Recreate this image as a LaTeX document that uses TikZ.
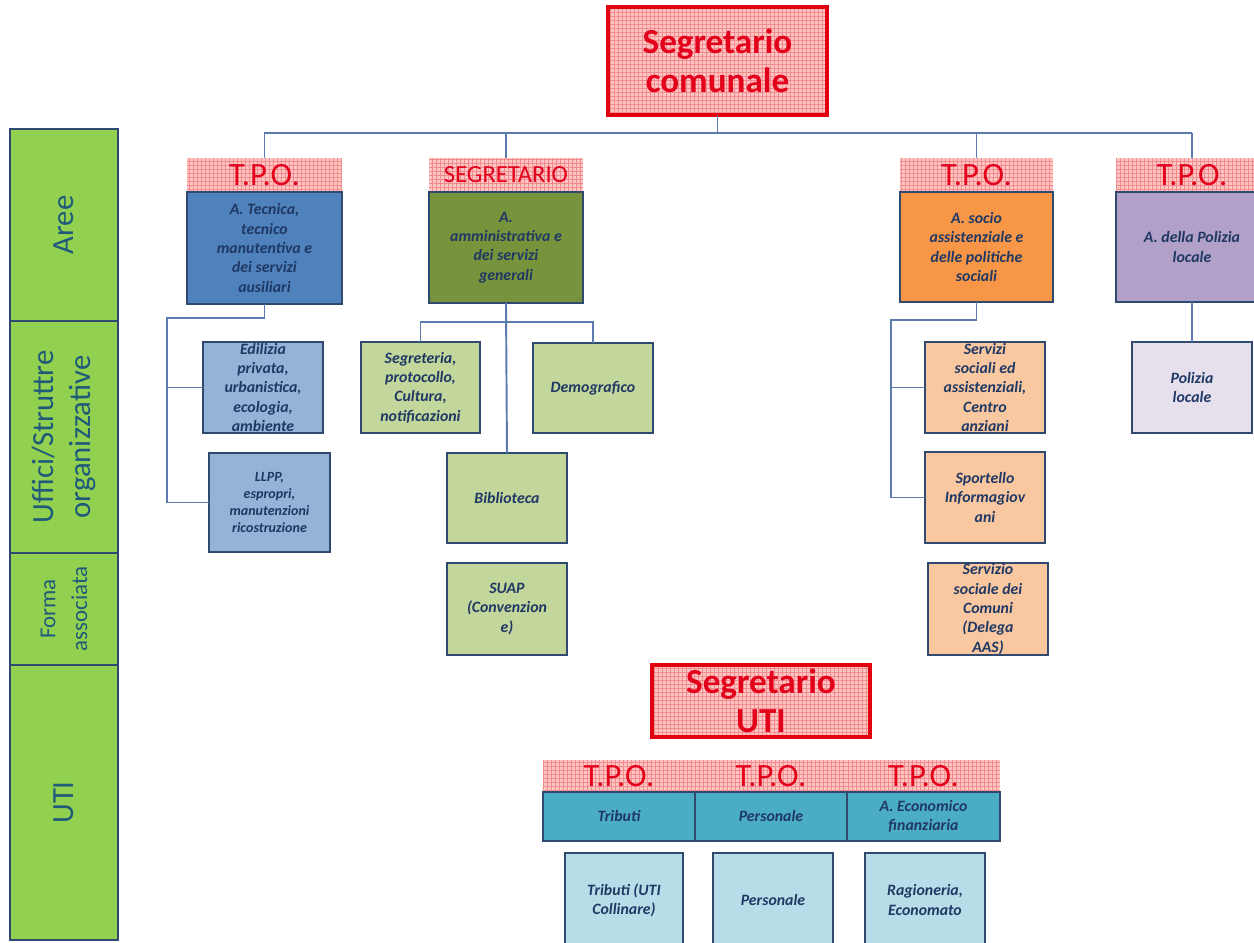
\documentclass[tikz,border=0pt]{standalone}
\usepackage{fontspec}
\setmainfont{Carlito}
\definecolor{pinkfill}{HTML}{FFC4C4}
\definecolor{pinkgrid}{HTML}{F28C8C}
\definecolor{redtxt}{HTML}{E2001A}
\definecolor{titlered}{HTML}{E00010}
\definecolor{bordc}{HTML}{2F4A6E}
\definecolor{txtc}{HTML}{1F3864}
\definecolor{connc}{HTML}{5B7BB0}
\definecolor{sidegreen}{HTML}{92D050}
\definecolor{sidetxt}{HTML}{1F5A7A}
\definecolor{blueA}{HTML}{4F81BD}
\definecolor{blueL}{HTML}{95B3D7}
\definecolor{oliveA}{HTML}{77933C}
\definecolor{oliveL}{HTML}{C3D69B}
\definecolor{orangeA}{HTML}{F79646}
\definecolor{orangeL}{HTML}{FAC8A0}
\definecolor{lavA}{HTML}{B1A0C7}
\definecolor{lavL}{HTML}{E5E0EC}
\definecolor{tealA}{HTML}{4BACC6}
\definecolor{tealL}{HTML}{B7DEE8}
\begin{document}
\begin{tikzpicture}[x=0.02cm,y=-0.02cm,
  conn/.style={draw=connc, line width=1.1pt},
  pinkhdr/.style={fill=pinkfill, inner sep=0pt, outer sep=0pt, anchor=north west,
    path picture={\draw[pinkgrid, line width=0.35pt] (path picture bounding box.south west) grid[step=0.08cm] (path picture bounding box.north east);},
    text=redtxt, font=\fontsize{18.5}{20}\selectfont},
  titlebox/.style={pinkhdr, draw=titlered, line width=1.8pt, align=center, font=\bfseries\fontsize{20}{22}\selectfont},
  body/.style={draw=bordc, line width=1.4pt, inner sep=0pt, outer sep=0pt, anchor=north west, align=center, text=txtc, font=\bfseries\itshape\fontsize{9}{11}\selectfont},
  side/.style={fill=sidegreen, draw=bordc, line width=1.4pt, rotate=90, align=center, text=sidetxt, font=\fontsize{17.5}{21}\selectfont, inner sep=0pt, minimum height=2.16cm}
]
\useasboundingbox (0,0) rectangle (1254,943);
\clip (0,0) rectangle (1254,943);

% side bar
\node[side, minimum width=3.84cm] (s1) at (64,225) {Aree};
\node[side, minimum width=4.64cm] (s2) at (64,437) {Uffici/Struttre\\organizzative};
\node[side, minimum width=2.24cm, font=\fontsize{13}{18}\selectfont] (s3) at (64,609) {Forma\\associata};
\node[side, minimum width=5.5cm] (s4) at (64,802.5) {UTI};

% top
\node[titlebox, minimum width=4.38cm, minimum height=2.16cm] (top) at (608,7) {Segretario\\comunale};

% areas
\node[pinkhdr, minimum width=3.1cm, minimum height=0.68cm] (tech) at (187,158) {T.P.O.};
\node[body, fill=blueA, minimum width=3.1cm, minimum height=2.24cm] (tecb) at (187,192) {A. Tecnica,\\tecnico\\manutentiva e\\dei servizi\\ausiliari};

\node[pinkhdr, minimum width=3.08cm, minimum height=0.68cm, font=\fontsize{14}{16}\selectfont] (ammh) at (429,158) {SEGRETARIO};
\node[body, fill=oliveA, minimum width=3.08cm, minimum height=2.22cm] (ammb) at (429,192) {A.\\amministrativa e\\dei servizi\\generali};

\node[pinkhdr, minimum width=3.06cm, minimum height=0.68cm] (soch) at (900,158) {T.P.O.};
\node[body, fill=orangeA, minimum width=3.06cm, minimum height=2.2cm] (socb) at (900,192) {A. socio\\assistenziale e\\delle politiche\\sociali};

\node[pinkhdr, minimum width=3.04cm, minimum height=0.68cm] (polh) at (1116,158) {T.P.O.};
\node[body, fill=lavA, minimum width=3.04cm, minimum height=2.2cm] (polb) at (1116,192) {A. della Polizia\\locale};

% offices
\node[body, fill=blueL, minimum width=2.4cm, minimum height=1.82cm] (edil) at (203,342) {Edilizia\\privata,\\urbanistica,\\ecologia,\\ambiente};
\node[body, fill=blueL, minimum width=2.42cm, minimum height=1.98cm, font=\bfseries\itshape\fontsize{8}{9.6}\selectfont] (llpp) at (209,453) {LLPP,\\espropri,\\manutenzioni\\ricostruzione};

\node[body, fill=oliveL, minimum width=2.38cm, minimum height=1.82cm] (segr) at (361,342) {Segreteria,\\protocollo,\\Cultura,\\notificazioni};
\node[body, fill=oliveL, minimum width=2.4cm, minimum height=1.8cm] (demo) at (533,343) {Demografico};
\node[body, fill=oliveL, minimum width=2.4cm, minimum height=1.8cm] (bib) at (447,453) {Biblioteca};
\node[body, fill=oliveL, minimum width=2.4cm, minimum height=1.84cm] (suap) at (447,563) {SUAP\\(Convenzion\\e)};

\node[body, fill=orangeL, minimum width=2.4cm, minimum height=1.82cm] (ssoc) at (925,342) {Servizi\\sociali ed\\assistenziali,\\Centro\\anziani};
\node[body, fill=orangeL, minimum width=2.4cm, minimum height=1.82cm] (spo) at (925,452) {Sportello\\Informagiov\\ani};
\node[body, fill=orangeL, minimum width=2.4cm, minimum height=1.84cm] (sscom) at (928,563) {Servizio\\sociale dei\\Comuni\\(Delega\\AAS)};

\node[body, fill=lavL, minimum width=2.4cm, minimum height=1.82cm] (polloc) at (1132,342) {Polizia\\locale};

% UTI
\node[titlebox, minimum width=4.36cm, minimum height=1.44cm] (suti) at (652,665) {Segretario\\UTI};

\node[pinkhdr, minimum width=3.04cm, minimum height=0.64cm] (u1h) at (543,760) {T.P.O.};
\node[pinkhdr, minimum width=3.04cm, minimum height=0.64cm] (u2h) at (695,760) {T.P.O.};
\node[pinkhdr, minimum width=3.06cm, minimum height=0.64cm] (u3h) at (847,760) {T.P.O.};
\node[body, fill=tealA, minimum width=3.04cm, minimum height=0.98cm] (u1b) at (543,792) {Tributi};
\node[body, fill=tealA, minimum width=3.04cm, minimum height=0.98cm] (u2b) at (695,792) {Personale};
\node[body, fill=tealA, minimum width=3.06cm, minimum height=0.98cm] (u3b) at (847,792) {A. Economico\\finanziaria};

\node[body, fill=tealL, minimum width=2.36cm, minimum height=1.88cm] (u1s) at (565,853) {Tributi (UTI\\Collinare)};
\node[body, fill=tealL, minimum width=2.4cm, minimum height=1.88cm] (u2s) at (713,853) {Personale};
\node[body, fill=tealL, minimum width=2.4cm, minimum height=1.88cm] (u3s) at (865,853) {Ragioneria,\\Economato};

% connectors
\coordinate (bus) at (0,133);
\draw[conn] (top.south) -- (top.south |- bus);
\draw[conn] (tech.north |- bus) -- (polh.north |- bus);
\foreach \n in {tech,ammh,soch,polh} \draw[conn] (\n.north |- bus) -- (\n.north);

\coordinate (tk) at (167,318);
\draw[conn] (tecb.south) |- (tk) |- (llpp.west);
\draw[conn] (tk |- edil.west) -- (edil.west);

\draw[conn] (ammb.south) -- (bib.north);
\draw[conn] (segr.north) -- ++(0,-20) -| (demo.north);

\coordinate (sk) at (891,320);
\draw[conn] (socb.south) |- (sk) |- (spo.west);
\draw[conn] (sk |- ssoc.west) -- (ssoc.west);

\draw[conn] (polb.south) -- (polloc.north);
\end{tikzpicture}
\end{document}
